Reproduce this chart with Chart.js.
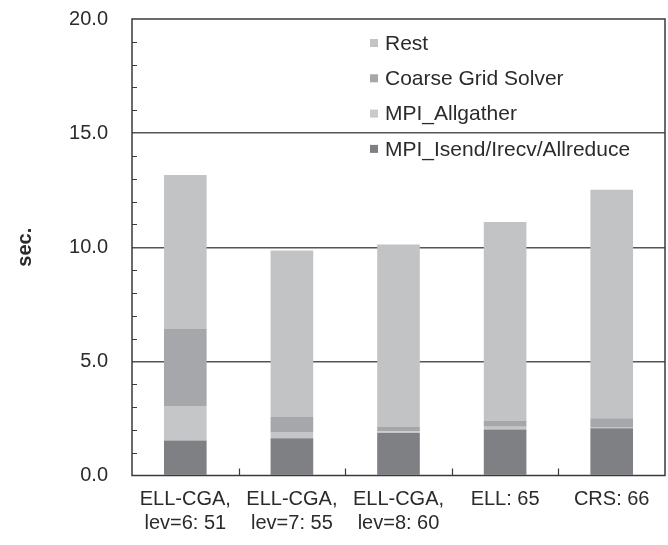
<!DOCTYPE html>
<html>
<head>
<meta charset="utf-8">
<script src="https://cdn.jsdelivr.net/npm/chart.js@4.4.0/dist/chart.umd.min.js"></script>
<style>
  html, body { margin: 0; padding: 0; background: #fff; }
  #wrap { width: 668px; height: 545px; }
</style>
</head>
<body>
<div id="wrap"><canvas id="chart"></canvas></div>
<script>
// categories (x axis, two lines where the original wraps)
const categories = [
  ['ELL-CGA,', 'lev=6: 51'],
  ['ELL-CGA,', 'lev=7: 55'],
  ['ELL-CGA,', 'lev=8: 60'],
  'ELL: 65',
  'CRS: 66'
];

// stacked segments, bottom to top (sec.)
const isendData     = [1.53, 1.63, 1.86, 2.02, 2.07];
const allgatherData = [1.52, 0.28, 0.08, 0.12, 0.06];
const coarseData    = [3.37, 0.65, 0.19, 0.25, 0.38];
const restData      = [6.75, 7.30, 7.99, 8.72, 10.01];

const yTickLabels = ['0.0', '5.0', '10.0', '15.0', '20.0'];

const FONT = '"Liberation Sans", Arial, sans-serif';
const AXIS = '#3a3a3a';

// frame round the plot, inward minor ticks on y, separators on x
const framePlugin = {
  id: 'frame',
  afterDraw(chart) {
    const { ctx, chartArea: a, scales: { x, y } } = chart;
    ctx.save();
    ctx.strokeStyle = AXIS;
    ctx.lineWidth = 1.5;
    ctx.strokeRect(a.left, a.top, a.right - a.left, a.bottom - a.top);
    ctx.lineWidth = 1.2;
    ctx.beginPath();
    y.ticks.forEach(t => {
      if (t.value % 5 === 0) return;
      const py = Math.round(y.getPixelForValue(t.value)) + 0.5;
      ctx.moveTo(a.left, py);
      ctx.lineTo(a.left + 5, py);
    });
    for (let i = 1; i < categories.length; i++) {
      const px = Math.round((x.getPixelForValue(i - 1) + x.getPixelForValue(i)) / 2) + 0.5;
      ctx.moveTo(px, a.bottom);
      ctx.lineTo(px, a.bottom - 7);
    }
    ctx.stroke();
    ctx.restore();
  }
};

// legend drawn inside the plot, top right, reversed order
const insideLegend = {
  id: 'insideLegend',
  afterDraw(chart) {
    const { ctx, chartArea: a } = chart;
    const sets = chart.data.datasets.slice().reverse();
    const x0 = a.left + 238;
    const y0 = a.top + 24;
    const rowH = 35.3;
    ctx.save();
    ctx.font = '21px ' + FONT;
    ctx.textBaseline = 'middle';
    ctx.textAlign = 'left';
    sets.forEach((ds, i) => {
      const yy = y0 + i * rowH;
      ctx.fillStyle = ds.legendColor || ds.backgroundColor;
      ctx.fillRect(x0, yy - 4, 8, 8);
      ctx.fillStyle = '#2b2b2b';
      ctx.fillText(ds.label, x0 + 15, yy + 1);
    });
    ctx.restore();
  }
};

new Chart(document.getElementById('chart'), {
  type: 'bar',
  data: {
    labels: categories,
    datasets: [
      { label: 'MPI_Isend/Irecv/Allreduce', data: isendData, backgroundColor: '#7f8084' },
      { label: 'MPI_Allgather', data: allgatherData, backgroundColor: '#c5c6c8', legendColor: '#c9c9ca' },
      { label: 'Coarse Grid Solver', data: coarseData, backgroundColor: '#a6a7aa' },
      { label: 'Rest', data: restData, backgroundColor: '#c2c3c5' }
    ]
  },
  options: {
    responsive: true,
    maintainAspectRatio: false,
    animation: false,
    layout: { padding: { top: 19, right: 3, left: 0, bottom: 0 } },
    datasets: {
      bar: { categoryPercentage: 1.0, barPercentage: 0.4, borderWidth: 0 }
    },
    plugins: {
      legend: { display: false },
      tooltip: { enabled: false }
    },
    scales: {
      x: {
        stacked: true,
        grid: { display: false },
        border: { display: false },
        ticks: {
          color: '#2b2b2b',
          font: { family: FONT, size: 20, lineHeight: 1.2 },
          padding: 4,
          maxRotation: 0,
          autoSkip: false
        },
        afterFit(s) { s.height = 69.5; }
      },
      y: {
        stacked: true,
        min: 0,
        max: 20,
        border: { display: false },
        grid: {
          drawTicks: false,
          lineWidth: 1.5,
          color: c => (c.tick && c.tick.value % 5 === 0 && c.tick.value > 0 && c.tick.value < 20) ? '#555' : 'rgba(0,0,0,0)'
        },
        ticks: {
          stepSize: 1,
          autoSkip: false,
          padding: 24,
          color: '#2b2b2b',
          font: { family: FONT, size: 20 },
          callback: v => (v % 5 === 0 ? yTickLabels[v / 5] : '')
        },
        title: {
          display: true,
          text: 'sec.',
          color: '#2b2b2b',
          font: { family: FONT, size: 20, weight: 'bold' },
          padding: { top: 13, bottom: 0 }
        },
        afterFit(s) {
          s.width = 132;
          // keep the label padding from pushing the plot down
          s.paddingTop = 0;
          s.paddingBottom = 0;
        }
      }
    }
  },
  plugins: [framePlugin, insideLegend]
});
</script>
</body>
</html>
